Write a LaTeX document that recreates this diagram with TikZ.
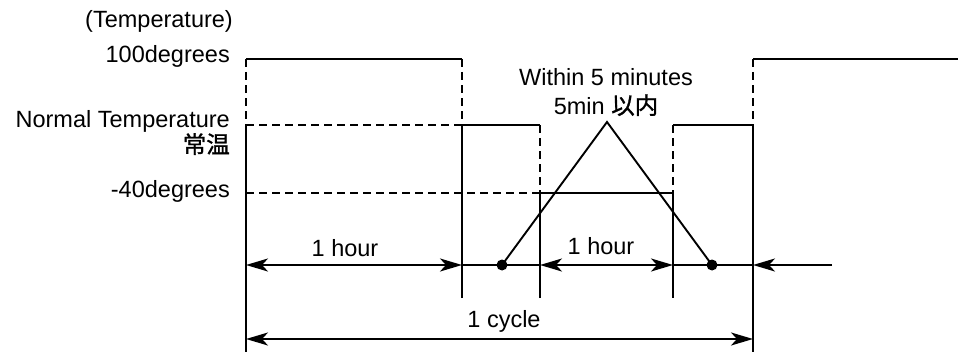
\documentclass[tikz,border=0pt]{standalone}
\usepackage{fontspec}
\setmainfont{Liberation Sans}
\newfontfamily\cjkfont{Noto Sans CJK JP}[FakeBold=1.2]
\usetikzlibrary{arrows.meta}

\tikzset{dimtip/.tip={Stealth[length=22pt,width=13pt,inset=6pt]}}

\begin{document}
\begin{tikzpicture}[x=1pt,y=-1pt,
  wave/.style={line width=2.8pt, line join=round, line cap=butt},
  guide/.style={line width=2.4pt, dash pattern=on 8pt off 5pt},
  dimline/.style={line width=2.2pt},
  slope/.style={line width=1.9pt},
  lbl/.style={font=\fontsize{23.5}{28}\selectfont, inner sep=0pt},
  dot/.style={circle, fill, inner sep=0pt, minimum size=11pt},
]
\useasboundingbox (0,0) rectangle (958,353);

% level and time grid
\coordinate (aT) at (246,59);  \coordinate (aN) at (246,125);
\coordinate (aM) at (246,193); \coordinate (aA) at (246,265);
\coordinate (aC) at (246,339); \coordinate (aB) at (246,352);
\coordinate (bT) at (462,59);  \coordinate (bN) at (462,125);
\coordinate (bA) at (462,265); \coordinate (bS) at (462,298);
\coordinate (cN) at (540,125); \coordinate (cM) at (540,193);
\coordinate (cA) at (540,265); \coordinate (cS) at (540,298);
\coordinate (dN) at (673,125); \coordinate (dM) at (673,193);
\coordinate (dA) at (673,265); \coordinate (dS) at (673,298);
\coordinate (eT) at (753,59);  \coordinate (eN) at (753,125);
\coordinate (eA) at (753,265); \coordinate (eC) at (753,339);
\coordinate (eB) at (753,352);
\coordinate (rT) at (958,59);  \coordinate (rA) at (832,265);
\coordinate (apex) at (607,122);

% dashed guides
\draw[guide] (aT) -- (aN);
\draw[guide] (bT) -- (bN);
\draw[guide] (cN) -- (cM);
\draw[guide] (dN) -- (dM);
\draw[guide] (eT) -- (eN);
\draw[guide] (aN) -- (bN);
\draw[guide] (aM) -- (cM);

% temperature profile
\draw[wave] (aT) -- (bT);
\draw[wave] (aN) -- (aB);
\draw[wave] (bS) -- (bN) -- (cN);
\draw[wave] (cS) -- (cM) -- (dM) -- (dS);
\draw[wave] (dN) -- (eN) -- (eB);
\draw[wave] (eT) -- (rT);

% transfer ramps
\node[dot] (d1) at (502,265) {};
\node[dot] (d2) at (712,265) {};
\draw[slope] (d1.center) -- (apex) -- (d2.center);

% time dimensions
\draw[dimline, dimtip-dimtip] (aA) -- (bA);
\draw[dimline] (bA) -- (cA);
\draw[dimline, dimtip-dimtip] (cA) -- (dA);
\draw[dimline] (dA) -- (eA);
\draw[dimline, -dimtip] (rA) -- (eA);
\draw[dimline, dimtip-dimtip] (aC) -- (eC);

% labels
\node[lbl, anchor=base east] (ltemp) at (233,28) {(Temperature)};
\node[lbl, anchor=base east] (lhigh) at (230,63) {100degrees};
\node[lbl, anchor=base east] (lnorm) at (230,127) {Normal Temperature};
\node[lbl, anchor=base east] (lnormj) at (230,153) {\cjkfont 常温};
\node[lbl, anchor=base east] (llow) at (230,197) {-40degrees};
\node[lbl, anchor=base] (lh1) at (345,256) {1 hour};
\node[lbl, anchor=base] (lh2) at (601,254) {1 hour};
\node[lbl, anchor=base] (lcyc) at (504,327) {1 cycle};
\node[lbl, anchor=base] (lwin) at (606,85) {Within 5 minutes};
\node[lbl, anchor=base] (lwinj) at (606,114) {5min \cjkfont 以内};
\end{tikzpicture}
\end{document}
